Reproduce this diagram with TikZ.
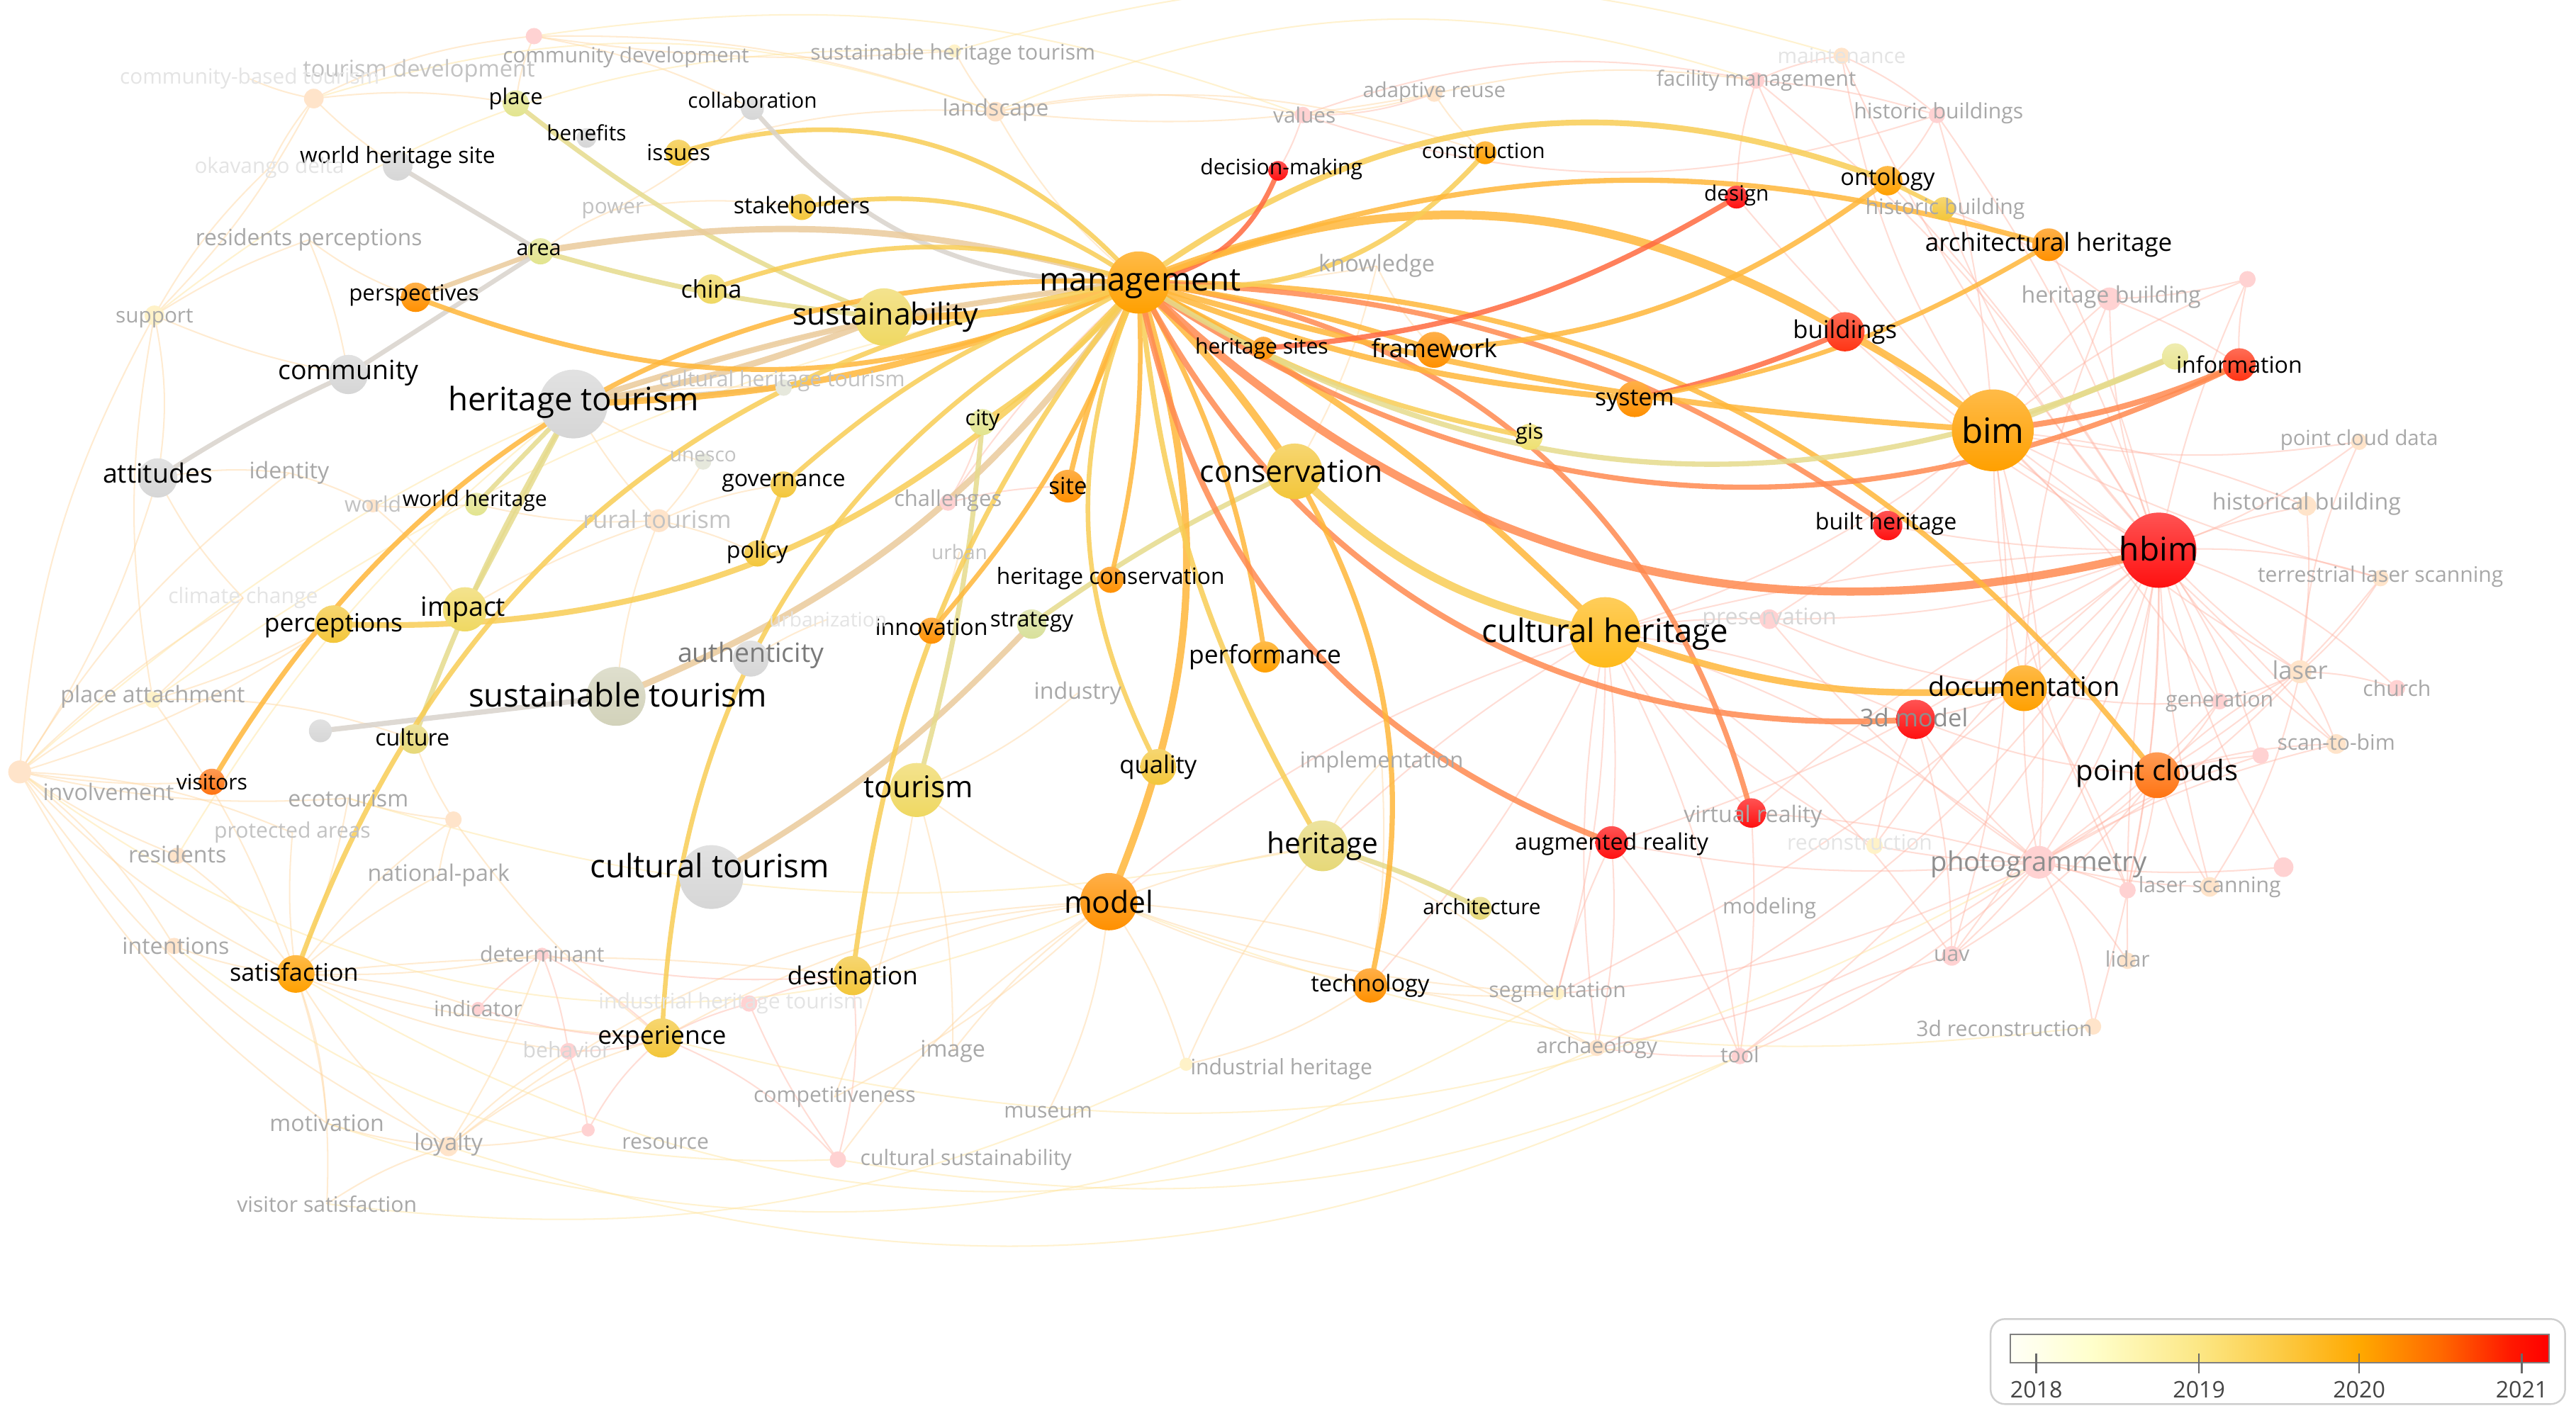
\documentclass[tikz,border=0pt]{standalone}
\usepackage{fontspec}
\setmainfont{Open Sans}
\definecolor{lg0}{HTML}{FFFFF6}\definecolor{lg1}{HTML}{FFFFEA}\definecolor{lg2}{HTML}{FFFFCC}
\definecolor{lg3}{HTML}{FCE785}\definecolor{lg4}{HTML}{FCCB45}\definecolor{lg5}{HTML}{FFA800}
\definecolor{lg6}{HTML}{FF6800}\definecolor{lg7}{HTML}{FF1800}\definecolor{lg8}{HTML}{FF0000}
\pgfdeclarehorizontalshading{legendbar}{100bp}{color(0bp)=(lg0); color(25bp)=(lg0); color(27.5bp)=(lg1); color(32.5bp)=(lg2); color(42.5bp)=(lg3); color(50bp)=(lg4); color(57.5bp)=(lg5); color(65bp)=(lg6); color(71.5bp)=(lg7); color(75bp)=(lg8); color(100bp)=(lg8)}
\pgfdeclarelayer{bg}\pgfdeclarelayer{faint}\pgfdeclarelayer{edges}\pgfdeclarelayer{fg}
\pgfsetlayers{bg,faint,edges,main,fg}
% node colours
\definecolor{nGray}{HTML}{D6D6D6}\definecolor{nKh}{HTML}{E2E48E}\definecolor{nKh2}{HTML}{E6D878}
\definecolor{nYel}{HTML}{EFD862}\definecolor{nGold}{HTML}{F3C63A}\definecolor{nCH}{HTML}{FFBA1A}
\definecolor{nOr}{HTML}{FFA000}\definecolor{nOr2}{HTML}{FF9000}\definecolor{nOr3}{HTML}{FF7412}
\definecolor{nRed}{HTML}{FF1010}\definecolor{nRed2}{HTML}{FF3414}\definecolor{nGreen}{HTML}{D8E09A}
\definecolor{nSt}{HTML}{D2D2BA}\definecolor{nInfoY}{HTML}{E9E592}\definecolor{nGis}{HTML}{EEE070}
\definecolor{fPk}{HTML}{FFD2D2}\definecolor{fPe}{HTML}{FFE4CA}\definecolor{fYe}{HTML}{FFF2C8}\definecolor{fGr}{HTML}{E6E8DC}
% label greys
\definecolor{gA}{HTML}{7A7A7A}\definecolor{gM}{HTML}{8E8E8E}\definecolor{gB}{HTML}{A8A8A8}
\definecolor{gC}{HTML}{C2C2C2}\definecolor{gD}{HTML}{D6D6D6}\definecolor{gE}{HTML}{E4E4E4}
% edge colours
\definecolor{cEo}{HTML}{FFB73A}\definecolor{cEy}{HTML}{F8CD55}\definecolor{cEk}{HTML}{E6DB8C}
\definecolor{cEt}{HTML}{EBCB9C}\definecolor{cEg}{HTML}{D9D3CC}\definecolor{cEr}{HTML}{FF8A50}
\definecolor{cErr}{HTML}{FF6A40}\definecolor{cFpk}{HTML}{FFB4A4}\definecolor{cFpe}{HTML}{FFD49A}
\definecolor{cFye}{HTML}{FFE6A0}\definecolor{legB}{HTML}{CFCFCF}\definecolor{legT}{HTML}{444444}
\tikzset{
 kw/.style={circle, inner sep=0pt, minimum size=#1*0.567pt, draw=none},
 sh/.style={top color=#1!72!white, bottom color=#1},
 fn/.style={circle, inner sep=0pt, minimum size=#1*0.567pt, draw=none},
 lb/.style={font=\fontsize{#1}{#1}\selectfont, inner sep=0pt, text=black},
 fl/.style={font=\fontsize{#1}{#1}\selectfont, inner sep=0pt},
 eo/.style={draw=cEo, line width=#1, draw opacity=.85, line cap=round}, eo/.default=1.7pt,
 ey/.style={draw=cEy, line width=#1, draw opacity=.85, line cap=round}, ey/.default=1.7pt,
 ek/.style={draw=cEk, line width=#1, draw opacity=.85, line cap=round}, ek/.default=1.7pt,
 et/.style={draw=cEt, line width=#1, draw opacity=.85, line cap=round}, et/.default=1.7pt,
 eg/.style={draw=cEg, line width=#1, draw opacity=.85, line cap=round}, eg/.default=1.7pt,
 er/.style={draw=cEr, line width=#1, draw opacity=.85, line cap=round}, er/.default=1.7pt,
 err/.style={draw=cErr, line width=#1, draw opacity=.85, line cap=round}, err/.default=1.7pt,
 fpk/.style={draw=cFpk, line width=0.5pt, draw opacity=.45},
 fpe/.style={draw=cFpe, line width=0.5pt, draw opacity=.45},
 fye/.style={draw=cFye, line width=0.5pt, draw opacity=.5},
 tickln/.style={draw=legT!80, line width=0.6pt},
}
\begin{document}
\begin{tikzpicture}[x=0.02cm, y=-0.02cm]
\begin{pgfonlayer}{bg}
\fill[white] (0,0) rectangle (1568,863);
\end{pgfonlayer}
\useasboundingbox (0,0) rectangle (1568,863);

% ---------------- main keyword nodes ----------------
\node[kw=38, sh=nOr] (mgmt) at (693,172) {};
\node[kw=35, sh=nYel] (sust) at (538,193) {};
\node[kw=42, sh=nGray] (htour) at (349,246) {};
\node[kw=24, sh=nGray] (comm) at (212,228) {};
\node[kw=24, sh=nGray] (att) at (96,291) {};
\node[kw=18, sh=nGray] (whs) at (242,101) {};
\node[kw=14, sh=nGray] (coll) at (458,66) {};
\node[kw=12, sh=nGray] (ben) at (357,84) {};
\node[kw=16, sh=nKh] (place) at (314,63) {};
\node[kw=16, sh=nKh] (area) at (329,153) {};
\node[kw=18, sh=nOr2] (persp) at (253,181) {};
\node[kw=16, sh=nGold] (issues) at (413,93) {};
\node[kw=16, sh=nGold] (stake) at (488,126) {};
\node[kw=18, sh=nYel] (china) at (433,176) {};
\node[kw=39, sh=nGray] (ctour) at (433,534) {};
\node[kw=36, sh=nSt] (stour) at (375,424) {};
\node[kw=22, sh=nGray] (auth) at (457,401) {};
\node[kw=33, sh=nYel] (tourism) at (558,481) {};
\node[kw=27, sh=nYel] (impact) at (283,371) {};
\node[kw=23, sh=nGold] (perc) at (203,380) {};
\node[kw=18, sh=nKh2] (culture) at (252,450) {};
\node[kw=16, sh=nOr3] (visit) at (129,476) {};
\node[kw=23, sh=nOr] (satis) at (180,593) {};
\node[kw=24, sh=nGold] (exper) at (403,632) {};
\node[kw=24, sh=nGold] (dest) at (519,594) {};
\node[kw=35, sh=nOr2] (model) at (675,549) {};
\node[kw=22, sh=nGold] (quality) at (705,467) {};
\node[kw=31, sh=nKh2] (herit) at (805,515) {};
\node[kw=14, sh=nKh2] (archit) at (901,553) {};
\node[kw=21, sh=nOr2] (tech) at (834,600) {};
\node[kw=20, sh=nRed] (ar) at (981,513) {};
\node[kw=18, sh=nRed] (vr) at (1066,495) {};
\node[kw=43, sh=nCH] (ch) at (977,385) {};
\node[kw=34, sh=nGold] (cons) at (788,287) {};
\node[kw=19, sh=nOr] (perf) at (770,400) {};
\node[kw=16, sh=nOr2] (hcons) at (676,353) {};
\node[kw=16, sh=nOr2] (innov) at (567,384) {};
\node[kw=18, sh=nGreen] (strat) at (628,380) {};
\node[kw=20, sh=nOr2] (site) at (650,296) {};
\node[kw=16, sh=nKh] (city) at (598,257) {};
\node[kw=16, sh=nGold] (gov) at (477,295) {};
\node[kw=16, sh=nGold] (policy) at (461,337) {};
\node[kw=14, sh=nKh] (wh) at (290,307) {};
\node[kw=22, sh=nOr2] (frame) at (873,213) {};
\node[kw=22, sh=nOr2] (system) at (995,243) {};
\node[kw=16, sh=nGis] (gis) at (931,266) {};
\node[kw=14, sh=nOr2] (hsites) at (769,212) {};
\node[kw=12, sh=nRed] (dm) at (778,104) {};
\node[kw=14, sh=nOr] (constr) at (904,93) {};
\node[kw=14, sh=nRed] (design) at (1057,120) {};
\node[kw=18, sh=nOr] (onto) at (1149,110) {};
\node[kw=14, sh=nGold] (histb) at (1183,127) {};
\node[kw=20, sh=nOr2] (archh) at (1247,149) {};
\node[kw=24, sh=nRed2] (build) at (1123,202) {};
\node[kw=50, sh=nOr] (bim) at (1213,262) {};
\node[kw=16, sh=nInfoY] (infoy) at (1324,217) {};
\node[kw=20, sh=nRed2] (info) at (1363,222) {};
\node[kw=18, sh=nRed] (bh) at (1149,320) {};
\node[kw=46, sh=nRed] (hbim) at (1314,335) {};
\node[kw=28, sh=nOr] (doc) at (1232,419) {};
\node[kw=24, sh=nRed] (tdm) at (1166,438) {};
\node[kw=28, sh=nOr3] (pc) at (1313,472) {};
\node[kw=14, sh=nGray] (gnode) at (195,445) {};

% ---------------- faint keyword nodes ----------------
\node[fn=10, fill=fPk] (cdev) at (325,22) {};
\node[fn=12, fill=fPe] (tdev) at (191,60) {};
\node[fn=8, fill=fYe] (sht) at (581,31) {};
\node[fn=12, fill=fPe] (land) at (606,68) {};
\node[fn=10, fill=fPk] (values) at (793,70) {};
\node[fn=10, fill=fPe] (adre) at (873,57) {};
\node[fn=10, fill=fPk] (facm) at (1069,49) {};
\node[fn=10, fill=fPe] (maint) at (1121,34) {};
\node[fn=10, fill=fPk] (hisbs) at (1179,70) {};
\node[fn=12, fill=fYe] (support) at (94,192) {};
\node[fn=14, fill=fPk] (hbuild) at (1284,182) {};
\node[fn=10, fill=fPk] (pinka) at (1368,170) {};
\node[fn=10, fill=fPe] (pcd) at (1436,269) {};
\node[fn=12, fill=fPe] (histbl) at (1404,308) {};
\node[fn=10, fill=fPe] (tls) at (1449,352) {};
\node[fn=14, fill=fPe] (laser) at (1400,409) {};
\node[fn=10, fill=fPk] (church) at (1459,419) {};
\node[fn=10, fill=fPk] (gen) at (1351,427) {};
\node[fn=12, fill=fPe] (stb) at (1422,453) {};
\node[fn=10, fill=fPk] (pinkb) at (1376,460) {};
\node[fn=20, fill=fPk] (photo) at (1241,525) {};
\node[fn=12, fill=fPk] (pinkc) at (1390,528) {};
\node[fn=10, fill=fPk] (lsa) at (1295,542) {};
\node[fn=12, fill=fPe] (lsb) at (1345,540) {};
\node[fn=12, fill=fPk] (uav) at (1188,582) {};
\node[fn=10, fill=fPe] (lidar) at (1295,585) {};
\node[fn=10, fill=fPe] (recd) at (1274,625) {};
\node[fn=12, fill=fPk] (preserv) at (1077,377) {};
\node[fn=10, fill=fYe] (recon) at (1141,515) {};
\node[fn=10, fill=fPk] (tool) at (1059,643) {};
\node[fn=10, fill=fPe] (archae) at (972,638) {};
\node[fn=8, fill=fYe] (seg) at (948,605) {};
\node[fn=8, fill=fYe] (indh) at (722,648) {};
\node[fn=10, fill=fPk] (culsus) at (510,706) {};
\node[fn=8, fill=fPk] (resource) at (358,688) {};
\node[fn=12, fill=fPe] (loyal) at (273,698) {};
\node[fn=8, fill=fPk] (determ) at (330,581) {};
\node[fn=8, fill=fPk] (indic) at (291,614) {};
\node[fn=10, fill=fPk] (behav) at (346,640) {};
\node[fn=10, fill=fPe] (intent) at (106,576) {};
\node[fn=10, fill=fPe] (resid) at (108,521) {};
\node[fn=14, fill=fPe] (invol) at (12,470) {};
\node[fn=10, fill=fYe] (patt) at (93,426) {};
\node[fn=10, fill=fPe] (fx) at (276,499) {};
\node[fn=8, fill=fPe] (world) at (227,308) {};
\node[fn=14, fill=fPe] (rural) at (401,317) {};
\node[fn=10, fill=fGr] (unesco) at (428,281) {};
\node[fn=10, fill=fPk] (chall) at (577,306) {};
\node[fn=10, fill=fGr] (cht) at (477,236) {};
\node[fn=10, fill=fPk] (iht) at (456,611) {};

% ---------------- labels ----------------
\begin{pgfonlayer}{fg}
\node[lb=11.2pt] (mgmtL) at (694,173) {management};
\node[lb=10.5pt] (sustL) at (539,193) {sustainability};
\node[lb=11.2pt] (htourL) at (349,245) {heritage tourism};
\node[lb=9.2pt] (commL) at (212,227) {community};
\node[lb=9.2pt] (attL) at (96,288) {attitudes};
\node[lb=7.8pt] (whsL) at (242,96) {world heritage site};
\node[lb=7.3pt] (collL) at (458,61) {collaboration};
\node[lb=7.3pt] (benL) at (357,81) {benefits};
\node[lb=7.6pt] (placeL) at (314,60) {place};
\node[lb=7.5pt] (areaL) at (328,152) {area};
\node[lb=7.7pt] (perspL) at (252,180) {perspectives};
\node[lb=7.7pt] (issuesL) at (413,93) {issues};
\node[lb=7.9pt] (stakeL) at (488,125) {stakeholders};
\node[lb=8.4pt] (chinaL) at (433,176) {china};
\node[lb=11.2pt] (ctourL) at (432,527) {cultural tourism};
\node[lb=11.2pt] (stourL) at (376,423) {sustainable tourism};
\node[fl=9.2pt, text=gA] (authL) at (457,399) {authenticity};
\node[lb=10.4pt] (tourismL) at (559,479) {tourism};
\node[lb=9.2pt] (impactL) at (282,371) {impact};
\node[lb=8.7pt] (percL) at (203,381) {perceptions};
\node[lb=7.9pt] (cultureL) at (251,449) {culture};
\node[lb=7.4pt] (visitL) at (129,476) {visitors};
\node[lb=8.4pt] (satisL) at (179,592) {satisfaction};
\node[lb=8.7pt] (experL) at (403,632) {experience};
\node[lb=8.6pt] (destL) at (519,594) {destination};
\node[lb=10.5pt] (modelL) at (675,549) {model};
\node[lb=8.5pt] (qualityL) at (705,467) {quality};
\node[lb=10pt] (heritL) at (805,515) {heritage};
\node[lb=7.3pt] (architL) at (902,552) {architecture};
\node[lb=8pt] (techL) at (834,600) {technology};
\node[lb=7.9pt] (arL) at (981,514) {augmented reality};
\node[fl=7.9pt, text=gB] (vrL) at (1067,497) {virtual reality};
\node[lb=11.2pt] (chL) at (977,386) {cultural heritage};
\node[lb=10.5pt] (consL) at (786,287) {conservation};
\node[lb=8.7pt] (perfL) at (770,400) {performance};
\node[lb=7.8pt] (hconsL) at (676,352) {heritage conservation};
\node[lb=7.9pt] (innovL) at (567,382) {innovation};
\node[lb=7.7pt] (stratL) at (628,379) {strategy};
\node[lb=8.1pt] (siteL) at (650,296) {site};
\node[lb=7.5pt] (cityL) at (598,256) {city};
\node[lb=7.9pt] (govL) at (477,294) {governance};
\node[lb=7.9pt] (policyL) at (461,336) {policy};
\node[lb=7.4pt] (whL) at (289,305) {world heritage};
\node[lb=8.6pt] (frameL) at (873,212) {framework};
\node[lb=8.3pt] (systemL) at (995,244) {system};
\node[lb=7.5pt] (gisL) at (931,264) {gis};
\node[lb=7.4pt] (hsitesL) at (768,212) {heritage sites};
\node[lb=7.4pt] (dmL) at (780,103) {decision-making};
\node[lb=7.3pt] (constrL) at (903,92) {construction};
\node[lb=7.3pt] (designL) at (1057,119) {design};
\node[lb=8pt] (ontoL) at (1149,109) {ontology};
\node[fl=7.4pt, text=gB] (histbL) at (1184,127) {historic building};
\node[lb=8.6pt] (archhL) at (1247,149) {architectural heritage};
\node[lb=8.5pt] (buildL) at (1123,202) {buildings};
\node[lb=12.1pt] (bimL) at (1213,262) {bim};
\node[lb=7.9pt] (infoL) at (1363,222) {information};
\node[lb=7.9pt] (bhL) at (1148,319) {built heritage};
\node[lb=11.3pt] (hbimL) at (1314,334) {hbim};
\node[lb=9.3pt] (docL) at (1232,418) {documentation};
\node[fl=8.5pt, text=gM] (tdmL) at (1165,437) {3d model};
\node[lb=9.8pt] (pcL) at (1313,471) {point clouds};
% faint labels
\node[fl=7.3pt, text=gB] (cdevL) at (381,35) {community development};
\node[fl=8pt, text=gC] (tdevL) at (255,43) {tourism development};
\node[fl=7.3pt, text=gE] (cbtL) at (152,48) {community-based tourism};
\node[fl=7.4pt, text=gB] (shtL) at (580,33) {sustainable heritage tourism};
\node[fl=7.8pt, text=gB] (landL) at (606,67) {landscape};
\node[fl=7.3pt, text=gB] (valuesL) at (794,70) {values};
\node[fl=7.2pt, text=gB] (adreL) at (873,56) {adaptive reuse};
\node[fl=7.3pt, text=gB] (facmL) at (1069,49) {facility management};
\node[fl=7.3pt, text=gE] (maintL) at (1121,34) {maintenance};
\node[fl=7.4pt, text=gB] (hisbsL) at (1180,69) {historic buildings};
\node[fl=7.3pt, text=gE] (okavL) at (164,102) {okavango delta};
\node[fl=7.3pt, text=gC] (powerL) at (373,128) {power};
\node[fl=7.8pt, text=gB] (respL) at (188,146) {residents perceptions};
\node[fl=7.3pt, text=gB] (supportL) at (94,194) {support};
\node[fl=8pt, text=gB] (knowL) at (838,162) {knowledge};
\node[fl=7.9pt, text=gB] (hbuildL) at (1285,181) {heritage building};
\node[fl=7.2pt, text=gB] (pcdL) at (1436,268) {point cloud data};
\node[fl=7.9pt, text=gB] (histblL) at (1404,307) {historical building};
\node[fl=7.4pt, text=gB] (tlsL) at (1449,351) {terrestrial laser scanning};
\node[fl=8.5pt, text=gB] (laserL) at (1400,408) {laser};
\node[fl=7.4pt, text=gB] (churchL) at (1459,419) {church};
\node[fl=7.4pt, text=gB] (genL) at (1351,427) {generation};
\node[fl=7.4pt, text=gB] (stbL) at (1422,452) {scan-to-bim};
\node[fl=9.4pt, text=gM] (photoL) at (1241,526) {photogrammetry};
\node[fl=7.4pt, text=gB] (lsL) at (1345,540) {laser scanning};
\node[fl=7.4pt, text=gB] (uavL) at (1188,582) {uav};
\node[fl=7.4pt, text=gB] (lidarL) at (1295,584) {lidar};
\node[fl=7.4pt, text=gB] (recdL) at (1220,626) {3d reconstruction};
\node[fl=7.9pt, text=gD] (preservL) at (1077,377) {preservation};
\node[fl=7.4pt, text=gE] (reconL) at (1132,513) {reconstruction};
\node[fl=7.4pt, text=gB] (modelingL) at (1077,553) {modeling};
\node[fl=7.4pt, text=gB] (toolL) at (1059,642) {tool};
\node[fl=7.4pt, text=gB] (archaeL) at (972,638) {archaeology};
\node[fl=7.4pt, text=gB] (segL) at (948,604) {segmentation};
\node[fl=7.4pt, text=gB] (indhL) at (780,651) {industrial heritage};
\node[fl=7.6pt, text=gB] (implL) at (841,464) {implementation};
\node[fl=7.9pt, text=gB] (industryL) at (656,422) {industry};
\node[fl=7.9pt, text=gB] (imageL) at (580,640) {image};
\node[fl=7.4pt, text=gB] (museumL) at (638,677) {museum};
\node[fl=7.4pt, text=gB] (competL) at (508,668) {competitiveness};
\node[fl=7.4pt, text=gB] (culsusL) at (588,706) {cultural sustainability};
\node[fl=7.4pt, text=gB] (resourceL) at (405,696) {resource};
\node[fl=7.9pt, text=gB] (motivL) at (199,684) {motivation};
\node[fl=7.9pt, text=gB] (loyalL) at (273,697) {loyalty};
\node[fl=7.4pt, text=gB] (vsatL) at (199,733) {visitor satisfaction};
\node[fl=7.4pt, text=gB] (determL) at (330,581) {determinant};
\node[fl=7.4pt, text=gB] (indicL) at (291,614) {indicator};
\node[fl=7.4pt, text=gD] (behavL) at (345,639) {behavior};
\node[fl=7.9pt, text=gB] (natpL) at (267,533) {national-park};
\node[fl=7.9pt, text=gB] (intentL) at (107,576) {intentions};
\node[fl=7.9pt, text=gB] (residL) at (108,520) {residents};
\node[fl=7.9pt, text=gB] (involL) at (66,482) {involvement};
\node[fl=7.9pt, text=gB] (pattL) at (93,424) {place attachment};
\node[fl=7.9pt, text=gB] (ecoL) at (212,486) {ecotourism};
\node[fl=7.4pt, text=gC] (protL) at (178,507) {protected areas};
\node[fl=7.9pt, text=gB] (identL) at (176,288) {identity};
\node[fl=7.4pt, text=gC] (worldL) at (227,307) {world};
\node[fl=7.4pt, text=gE] (climateL) at (148,364) {climate change};
\node[fl=8.4pt, text=gC] (ruralL) at (400,316) {rural tourism};
\node[fl=6.9pt, text=gC] (unescoL) at (428,278) {unesco};
\node[fl=7.6pt, text=gB] (challL) at (577,305) {challenges};
\node[fl=6.9pt, text=gC] (urbanL) at (584,336) {urban};
\node[fl=6.9pt, text=gE] (urbzL) at (504,377) {urbanization};
\node[fl=7.4pt, text=gC] (chtL) at (476,232) {cultural heritage tourism};
\node[fl=7.4pt, text=gE] (ihtL) at (445,611) {industrial heritage tourism};
\end{pgfonlayer}

% ---------------- faint background web ----------------
\begin{pgfonlayer}{faint}
\foreach \a/\b/\k in {hbim/hbuild/10, hbim/pcd/-8, hbim/histbl/6, hbim/tls/10, hbim/laser/-6, hbim/church/12, hbim/gen/5, hbim/stb/-10, hbim/pinkb/8, hbim/photo/12, hbim/pinkc/-8, hbim/lsa/6, hbim/lsb/-6, hbim/uav/10, hbim/lidar/-5, hbim/recd/8, hbim/preserv/10, hbim/recon/-8, hbim/tool/12, hbim/archae/15, hbim/seg/10, hbim/facm/-10, hbim/maint/8, hbim/hisbs/-8, hbim/pinka/6, hbim/design/10, hbim/vr/-8, hbim/ar/10, hbim/ch/-6, hbim/build/8, hbim/onto/-6, hbim/histb/10, hbim/bh/5, hbim/archh/-6,
bim/hbuild/8, bim/pcd/-10, bim/histbl/8, bim/laser/-8, bim/photo/10, bim/stb/6, bim/facm/10, bim/hisbs/-6, bim/maint/12, bim/preserv/8, bim/tls/-6, bim/pinka/8, bim/lsa/-10, bim/uav/12, bim/gen/6, bim/ch/10, bim/doc/-6,
photo/uav/5, photo/lidar/8, photo/lsa/5, photo/lsb/-6, photo/recd/10, photo/pc/-8, photo/doc/6, photo/tdm/8, photo/laser/-10, photo/stb/8, photo/tool/10, photo/archae/12, photo/pinkc/-6, photo/recon/5, photo/ch/-10, photo/ar/8, photo/vr/-6, photo/preserv/8, photo/gen/-6, photo/seg/10, photo/pinkb/8,
laser/church/8, laser/stb/6, laser/tls/-8, laser/pcd/10, laser/histbl/-6, laser/lsb/10, laser/pc/-8, laser/gen/6,
pc/lsa/8, pc/lsb/-6, pc/pinkb/6, pc/gen/-8, pc/stb/8, pc/tls/-10, pc/tdm/8, pc/uav/10,
doc/preserv/8, doc/tdm/6, doc/gen/-8, doc/hbuild/10, doc/lsa/8,
ch/preserv/6, ch/recon/-8, ch/tool/10, ch/archae/-8, ch/ar/6, ch/vr/-6, ch/seg/8, ch/model/-10, ch/tech/8, ch/herit/-6, ch/tdm/8, ch/uav/12,
tdm/uav/8, tdm/recon/-6, tool/archae/4, tool/uav/10, tool/ar/-8, vr/tool/6, ar/archae/8, ar/seg/-6,
facm/values/-15, facm/maint/8, facm/hisbs/6, facm/design/-8, values/dm/6, values/adre/-10, values/hisbs/-18, hisbs/onto/8, hisbs/maint/-8, pinka/hbuild/6, pinka/info/-8, hbuild/info/6, hbuild/histb/-8,
exper/behav/8, exper/resource/-10, exper/culsus/12, exper/determ/-8, exper/indic/8, exper/iht/6, dest/iht/-6, dest/culsus/10, dest/determ/8, behav/resource/5, behav/determ/-6, indic/determ/8, culsus/iht/6, chall/mgmt/6, chall/city/-8, chall/site/6}
  \draw[fpk] (\a.center) to[bend left=\k] (\b.center);
\foreach \a/\b/\k in {satis/intent/8, satis/loyal/-10, satis/motivL/8, satis/determ/-6, satis/indic/8, satis/resid/-8, satis/natpL/6, satis/invol/10, satis/patt/-8, satis/vsatL/10, satis/behav/-8, satis/dest/6, satis/exper/-6, satis/fx/8, satis/ecoL/-6, satis/protL/6,
invol/patt/8, invol/resid/-6, invol/intent/10, invol/att/-8, invol/support/12, invol/visit/-6, invol/loyal/-14, invol/identL/10, invol/perc/-8, invol/climateL/6, invol/ecoL/-8, invol/protL/10, invol/motivL/-12,
support/tdev/-8, support/respL/6, support/att/10, support/comm/-6, support/okavL/8, support/patt/-10,
tdev/cdev/10, tdev/whs/-6, tdev/place/8, tdev/okavL/-6, tdev/cbtL/6, cdev/land/10, cdev/sht/-6, cdev/coll/8, cdev/place/-8,
land/values/12, land/adre/-8, land/sht/6, land/mgmt/-10, land/constr/14, land/issues/-10, adre/facm/10, adre/constr/-8, adre/values/6,
att/identL/8, att/climateL/-8, identL/world/6, world/wh/-4, world/impact/8, patt/perc/-6, patt/culture/10, patt/climateL/-6,
rural/htour/6, rural/stour/-8, rural/wh/8, rural/impact/-6, rural/gov/8, rural/unesco/-6, rural/policy/6,
fx/culture/6, fx/exper/-8, fx/ecoL/6, fx/natpL/-6, loyal/motivL/6, loyal/vsatL/-8, loyal/behav/8, loyal/resource/-6, loyal/exper/10, loyal/determ/-6,
model/indh/8, model/imageL/-8, model/museumL/10, model/culsus/-10, model/competL/8, model/tech/-6, model/archae/12, model/seg/-8, model/herit/6, model/dest/-8, model/tourism/6, model/exper/-12, model/loyal/-18,
tourism/imageL/8, tourism/industryL/-8, tourism/competL/6, herit/implL/8, herit/indh/-8, herit/seg/10, tech/seg/-6, tech/archae/8, tech/implL/-6, tech/indh/10,
knowL/mgmt/6, knowL/frame/-8, knowL/cons/8, powerL/area/-6, powerL/stake/8, powerL/coll/-8, respL/comm/6, respL/persp/-8, urbanL/innov/6, urbzL/auth/-6, unesco/htour/8, cht/htour/-6}
  \draw[fpe] (\a.center) to[bend left=\k] (\b.center);
\foreach \a/\b/\k in {loyal/tool/-22, satis/archae/-28, invol/model/-30, exper/photo/-22, model/recd/-14, motivL/seg/-24, intent/culsus/-20, tdev/land/18, cdev/values/14, sht/maint/16, land/facm/20, support/sht/20, resid/htour/10, patt/mgmt/12, invol/mgmt/18, vsatL/indh/-16, culsus/tool/-16, ecoL/herit/-14}
  \draw[fye] (\a.center) to[bend left=\k] (\b.center);
\end{pgfonlayer}

% ---------------- main links ----------------
\begin{pgfonlayer}{edges}
\draw[eg=1.6pt] (whs.center) to (area.center);
\draw[et=1.7pt] (persp.center) to (area.center);
\draw[eg=1.6pt] (comm.center) to (area.center);
\draw[eg=1.6pt] (att.center) to[bend left=4] (comm.center);
\draw[ek=1.6pt] (place.center) to[bend right=8] (sust.center);
\draw[ek=1.7pt] (area.center) to[bend right=5] (sust.center);
\draw[et=2.2pt] (sust.center) to[bend left=6] (htour.center);
\draw[ek=1.7pt] (culture.center) to[bend left=5] (htour.center);
\draw[ek=1.6pt] (impact.center) to (htour.center);
\draw[ek=1.6pt] (wh.center) to (htour.center);
\draw[eg=1.5pt] (htour.center) to (cht.center);
\draw[eg=1.8pt] (stour.center) to (gnode.center);
\draw[et=2.2pt] (stour.center) to[bend right=16] (mgmt.center);
\draw[et=2pt] (ctour.center) to[bend right=8] (strat.center);
\draw[ek=1.7pt] (strat.center) to[bend left=5] (cons.center);
\draw[ek=1.7pt] (tourism.center) to[bend right=5] (city.center);
\draw[ey=1.5pt] (policy.center) to (gov.center);
\draw[ek=1.7pt] (herit.center) to[bend left=5] (archit.center);
\draw[ey=1.6pt] (mgmt.center) to[bend right=33] (issues.center);
\draw[ey=1.6pt] (mgmt.center) to[bend right=22] (stake.center);
\draw[eg=1.6pt] (mgmt.center) to[bend left=25] (coll.center);
\draw[et=2.2pt] (mgmt.center) to[bend right=12] (area.center);
\draw[ey=1.6pt] (mgmt.center) to[bend right=18] (china.center);
\draw[eo=2.6pt] (mgmt.center) to[bend left=8] (sust.center);
\draw[eo=2.2pt] (mgmt.center) to[bend left=10] (htour.center);
\draw[et=2pt] (mgmt.center) to[bend right=6] (htour.center);
\draw[eo=1.7pt] (mgmt.center) to[bend left=22] (persp.center);
\draw[ey=2pt] (mgmt.center) to[bend left=25] (perc.center);
\draw[eo=1.7pt] (mgmt.center) to[bend right=31] (visit.center);
\draw[ey=1.7pt] (mgmt.center) to[bend right=31] (satis.center);
\draw[ey=1.6pt] (mgmt.center) to[bend left=8] (city.center);
\draw[ey=1.6pt] (mgmt.center) to[bend right=12] (gov.center);
\draw[ey=1.6pt] (mgmt.center) to[bend right=30] (exper.center);
\draw[ey=1.7pt] (mgmt.center) to[bend right=15] (dest.center);
\draw[eo=1.6pt] (mgmt.center) to[bend left=10] (innov.center);
\draw[eo=1.8pt] (mgmt.center) to[bend right=6] (site.center);
\draw[eo=1.6pt] (mgmt.center) to[bend left=8] (hcons.center);
\draw[eo=2.5pt] (mgmt.center) to[bend left=20] (model.center);
\draw[ey=1.6pt] (mgmt.center) to[bend right=25] (quality.center);
\draw[ey=1.8pt] (mgmt.center) to[bend right=12] (herit.center);
\draw[eo=1.7pt] (mgmt.center) to[bend left=10] (perf.center);
\draw[eo=2.6pt] (mgmt.center) to[bend left=5] (cons.center);
\draw[er=2pt] (mgmt.center) to[bend right=29] (ar.center);
\draw[er=1.8pt] (mgmt.center) to[bend left=34] (vr.center);
\draw[eo=2.2pt] (mgmt.center) to[bend left=8] (ch.center);
\draw[er=2pt] (mgmt.center) to[bend right=33] (tdm.center);
\draw[er=2.8pt] (mgmt.center) to[bend right=29] (hbim.center);
\draw[eo=1.8pt] (mgmt.center) to[bend left=26] (pc.center);
\draw[er=1.8pt] (mgmt.center) to[bend left=16] (bh.center);
\draw[eo=3pt] (mgmt.center) to[bend left=26] (build.center);
\draw[ey=2pt] (mgmt.center) to[bend left=28] (onto.center);
\draw[ey=1.7pt] (mgmt.center) to[bend right=28] (constr.center);
\draw[err=1.7pt] (mgmt.center) to[bend right=30] (dm.center);
\draw[eo=1.8pt] (mgmt.center) to[bend left=5] (frame.center);
\draw[eo=2pt] (mgmt.center) to[bend right=8] (system.center);
\draw[ey=1.7pt] (mgmt.center) to[bend right=10] (gis.center);
\draw[eo=1.5pt] (mgmt.center) to (hsites.center);
\draw[eo=1.8pt] (mgmt.center) to[bend left=18] (archh.center);
\draw[eo=2pt] (mgmt.center) to[bend right=6] (bim.center);
\draw[er=1.8pt] (mgmt.center) to[bend right=30] (info.center);
\draw[ek=1.8pt] (mgmt.center) to[bend right=28] (infoy.center);
\draw[err=1.8pt] (design.center) to[bend left=13] (hsites.center);
\draw[eo=1.8pt] (frame.center) to[bend right=16] (onto.center);
\draw[err=1.8pt] (system.center) to[bend right=5] (build.center);
\draw[eo=2.5pt] (build.center) to[bend left=5] (bim.center);
\draw[eo=1.6pt] (archh.center) to[bend left=10] (system.center);
\draw[er=2pt] (info.center) to[bend left=8] (bim.center);
\draw[ek=2pt] (infoy.center) to (bim.center);
\draw[ey=1.5pt] (onto.center) to (histb.center);
\draw[eo=1.8pt] (cons.center) to[bend left=21] (tech.center);
\draw[ey=2.8pt] (cons.center) to[bend right=17] (ch.center);
\draw[eo=2.3pt] (ch.center) to[bend right=12] (doc.center);
\end{pgfonlayer}

% ---------------- legend ----------------
\node[draw=legB, rounded corners=5pt, line width=0.6pt, minimum width=351*0.567pt, minimum height=52*0.567pt, inner sep=0pt] (legbox) at (1386.5,829) {};
\node[shade, shading=legendbar, draw=gray, line width=0.5pt, minimum width=329*0.567pt, minimum height=17.5*0.567pt, inner sep=0pt] (legbar) at (1387.5,821) {};
\coordinate (ka) at (1239.5,824); \coordinate (kaa) at (1239.5,836);
\coordinate (kb) at (1338.5,824); \coordinate (kbb) at (1338.5,836);
\coordinate (kc) at (1436,824); \coordinate (kcc) at (1436,836);
\coordinate (kd) at (1535,824); \coordinate (kdd) at (1535,836);
\draw[tickln] (ka) -- (kaa); \draw[tickln] (kb) -- (kbb);
\draw[tickln] (kc) -- (kcc); \draw[tickln] (kd) -- (kdd);
\node[fl=7.9pt, text=legT] (y18) at (1239.5,846) {2018};
\node[fl=7.9pt, text=legT] (y19) at (1338.5,846) {2019};
\node[fl=7.9pt, text=legT] (y20) at (1436,846) {2020};
\node[fl=7.9pt, text=legT] (y21) at (1535,846) {2021};
\end{tikzpicture}
\end{document}
